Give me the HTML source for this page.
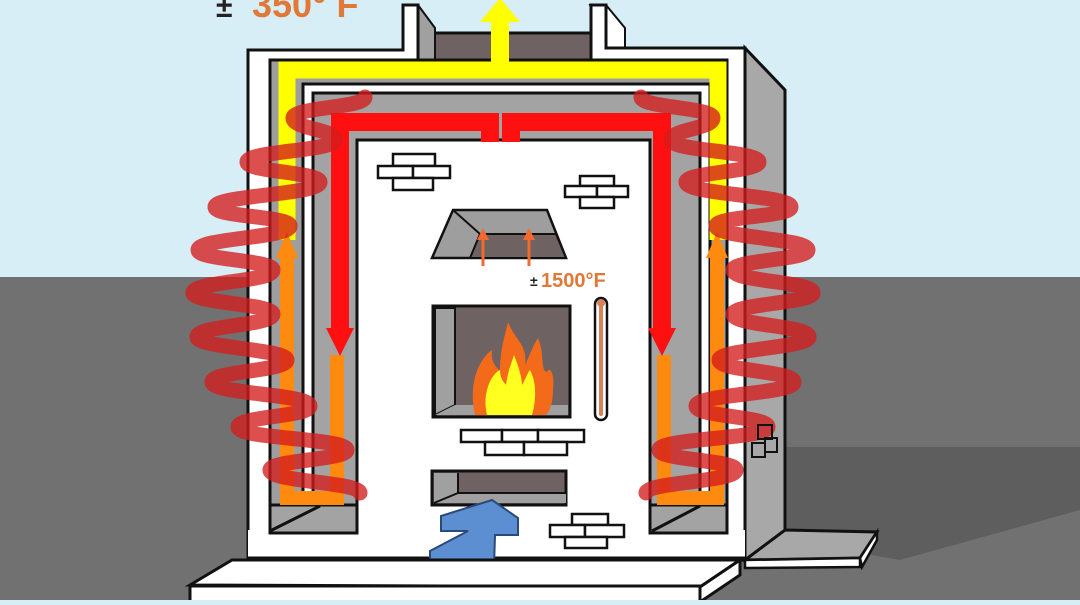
<!DOCTYPE html>
<html><head><meta charset="utf-8"><style>html,body{margin:0;padding:0;overflow:hidden;background:#d8eef6}</style></head>
<body>
<svg width="1080" height="600" viewBox="0 0 1080 600" xmlns="http://www.w3.org/2000/svg" font-family="Liberation Sans, sans-serif">
<rect width="1080" height="600" fill="#d8eef6"/>
<rect y="277" width="1080" height="323" fill="#717171"/>
<polygon points="785,447 1080,447 1080,510 900,560 785,540" fill="#5e5e5e"/>
<polygon points="745,48 785,90 785,535 745,560" fill="#a8a8a8" stroke="#111" stroke-width="3"/>
<rect x="418" y="33" width="175" height="40" fill="#6e6262" stroke="#111" stroke-width="3"/>
<polygon points="403,5 418,5 435,28 435,60 418,60" fill="#a0a0a0" stroke="#111" stroke-width="2"/>
<polygon points="590,5 606,5 625,28 625,48 606,48" fill="#fff" stroke="#111" stroke-width="2"/>
<path d="M248,50 H403 V5 H418 V62 H591 V5 H606 V48 H745 V560 H248 Z" fill="#fff" stroke="#111" stroke-width="3"/>
<rect x="270" y="60" width="457" height="480" fill="#9e9e9e" stroke="#111" stroke-width="3"/>
<rect x="303" y="84" width="407" height="456" fill="#fff" stroke="#111" stroke-width="3"/>
<rect x="313" y="93" width="387" height="440" fill="#a3a3a3" stroke="#111" stroke-width="3"/>
<rect x="357" y="140" width="293" height="418" fill="#fff" stroke="#111" stroke-width="3"/>
<rect x="248" y="530" width="497" height="30" fill="#fff"/>
<rect x="270" y="505" width="87" height="28" fill="#a3a3a3" stroke="#111" stroke-width="3"/>
<rect x="650" y="505" width="77" height="28" fill="#a3a3a3" stroke="#111" stroke-width="3"/>
<line x1="270" y1="531" x2="320" y2="506" stroke="#111" stroke-width="3"/>
<line x1="652" y1="531" x2="700" y2="506" stroke="#111" stroke-width="3"/>
<line x1="248" y1="558" x2="745" y2="558" stroke="#111" stroke-width="3"/>
<path d="M287,240 V70 H718 V240" fill="none" stroke="#ffff00" stroke-width="17"/>
<rect x="491" y="20" width="18" height="52" fill="#ffff00"/>
<polygon points="480,22 500,-2 520,22" fill="#ffff00"/>
<path d="M287,255 V498 H337 V355" fill="none" stroke="#ff8a10" stroke-width="14"/>
<polygon points="276,258 287,232 298,258" fill="#ff8a10"/>
<path d="M717,255 V498 H664 V355" fill="none" stroke="#ff8a10" stroke-width="14"/>
<polygon points="706,258 717,232 728,258" fill="#ff8a10"/>
<path d="M340,330 V122 H490 V142 M511,142 V122 H662 V330" fill="none" stroke="#ff1010" stroke-width="18"/>
<polygon points="326,328 354,328 340,356" fill="#ff1010"/>
<polygon points="648,328 676,328 662,356" fill="#ff1010"/>
<g fill="none" stroke="#d41c1c" stroke-opacity="0.78" stroke-width="15" stroke-linecap="round">
<path d="M365,97 C365,108 293,107 293,118 C293,129 335,129 335,140 C335,151 247,151 247,162 C247,172 320,172 320,182 C320,195 215,195 215,207 C215,217 290,216 290,226 C290,238 198,238 198,250 C198,260 273,260 273,270 C273,282 193,281 193,293 C193,303 273,304 273,314 C273,326 197,325 197,337 C197,348 287,349 287,360 C287,371 212,371 212,382 C212,394 310,394 310,406 C310,417 238,416 238,427 C238,439 347,438 347,450 C347,460 270,460 270,470 C270,482 360,482 360,493"/>
<path d="M641,97 C641,108 713,107 713,118 C713,129 671,129 671,140 C671,151 759,151 759,162 C759,172 686,172 686,182 C686,195 791,195 791,207 C791,217 716,216 716,226 C716,238 808,238 808,250 C808,260 733,260 733,270 C733,282 813,281 813,293 C813,303 733,304 733,314 C733,326 809,325 809,337 C809,348 719,349 719,360 C719,371 794,371 794,382 C794,394 696,394 696,406 C696,417 768,416 768,427 C768,439 659,438 659,450 C659,460 736,460 736,470 C736,482 646,482 646,493"/>
</g>
<g fill="#fff" stroke="#111" stroke-width="2.5">
<rect x="393" y="154" width="42" height="12"/><rect x="378" y="166" width="35" height="12"/><rect x="413" y="166" width="37" height="12"/><rect x="393" y="178" width="40" height="12"/>
<rect x="580" y="176" width="34" height="10"/><rect x="565" y="186" width="32" height="11"/><rect x="597" y="186" width="31" height="11"/><rect x="580" y="197" width="34" height="11"/>
<rect x="461" y="430" width="41" height="12"/><rect x="502" y="430" width="36" height="12"/><rect x="538" y="430" width="46" height="12"/><rect x="485" y="442" width="39" height="13"/><rect x="524" y="442" width="43" height="13"/>
<rect x="572" y="514" width="36" height="11"/><rect x="550" y="525" width="35" height="12"/><rect x="585" y="525" width="39" height="12"/><rect x="565" y="537" width="42" height="11"/>
</g>
<polygon points="432,258 453,210 547,210 566,258" fill="#9e9e9e" stroke="#111" stroke-width="2.5"/>
<polygon points="470,258 480,234 556,234 566,258" fill="#6e6262" stroke="#111" stroke-width="2"/>
<line x1="453" y1="210" x2="480" y2="234" stroke="#111" stroke-width="2"/>
<g stroke="#f26a30" stroke-width="3"><line x1="483" y1="266" x2="483" y2="236"/><line x1="529" y1="266" x2="529" y2="236"/></g>
<polygon points="477,240 483,228 489,240" fill="#f26a30"/><polygon points="523,240 529,228 535,240" fill="#f26a30"/>
<rect x="433" y="306" width="137" height="111" fill="#6e6262" stroke="#111" stroke-width="3"/>
<polygon points="435,308 455,308 455,405 435,415" fill="#a0a0a0" stroke="#111" stroke-width="2"/>
<polygon points="455,405 568,405 568,415 435,415" fill="#a0a0a0"/>
<path d="M475,415 C468,385 478,360 492,350 C490,365 500,370 500,370 C500,350 505,335 508,322 C515,340 528,345 525,365 C530,355 533,345 538,338 C545,355 540,370 547,372 C550,365 555,375 553,390 C553,405 548,415 545,415 Z" fill="#f26a1a"/>
<path d="M487,415 C482,395 490,375 500,370 C500,380 505,383 506,385 C508,370 512,362 514,355 C520,370 522,380 522,385 C526,378 528,372 530,370 C538,385 535,405 532,415 Z" fill="#ffff20"/>
<rect x="595" y="298" width="12" height="122" rx="6" fill="#fff" stroke="#111" stroke-width="2.5"/>
<rect x="599" y="302" width="4" height="114" rx="2" fill="#d9825a"/>
<circle cx="601" cy="303" r="4" fill="#d9825a"/>
<rect x="432" y="471" width="134" height="34" fill="#6e6262" stroke="#111" stroke-width="3"/>
<polygon points="434,473 458,473 458,493 566,493 566,503 434,503" fill="#a0a0a0"/>
<line x1="434" y1="503" x2="458" y2="493" stroke="#111" stroke-width="2"/><line x1="458" y1="473" x2="458" y2="493" stroke="#111" stroke-width="2"/><line x1="458" y1="493" x2="566" y2="493" stroke="#111" stroke-width="2"/>
<polygon points="492,500 518,518 518,535 495,535 494,567 430,567 430,551 468,531 441,531 441,516" fill="#5b8fd2" stroke="#2b4a7a" stroke-width="2"/>
<g fill="none" stroke="#111" stroke-width="2"><rect x="752" y="443" width="13" height="14"/><rect x="765" y="438" width="12" height="14"/><rect x="758" y="425" width="14" height="14"/></g>
<polygon points="745,560 785,530 877,532 860,558" fill="#a8a8a8" stroke="#111" stroke-width="3"/>
<polygon points="745,560 860,558 860,567 745,568" fill="#fff" stroke="#111" stroke-width="2.5"/>
<polygon points="860,558 877,532 877,540 862,567" fill="#fff" stroke="#111" stroke-width="2.5"/>
<polygon points="190,585 232,560 740,560 700,587" fill="#fff" stroke="#111" stroke-width="3"/>
<rect x="190" y="586" width="510" height="20" fill="#fff" stroke="#111" stroke-width="3"/>
<polygon points="700,587 740,560 740,575 700,602" fill="#fff" stroke="#111" stroke-width="3"/>
<text x="216" y="17" font-size="30" font-weight="bold" fill="#222">±</text>
<text x="252" y="17" font-size="36" font-weight="bold" fill="#e07838">350° F</text>
<text x="530" y="286" font-size="14" font-weight="bold" fill="#222">±</text>
<text x="541" y="287" font-size="20" font-weight="bold" fill="#e07838">1500°F</text>
</svg>
</body></html>
